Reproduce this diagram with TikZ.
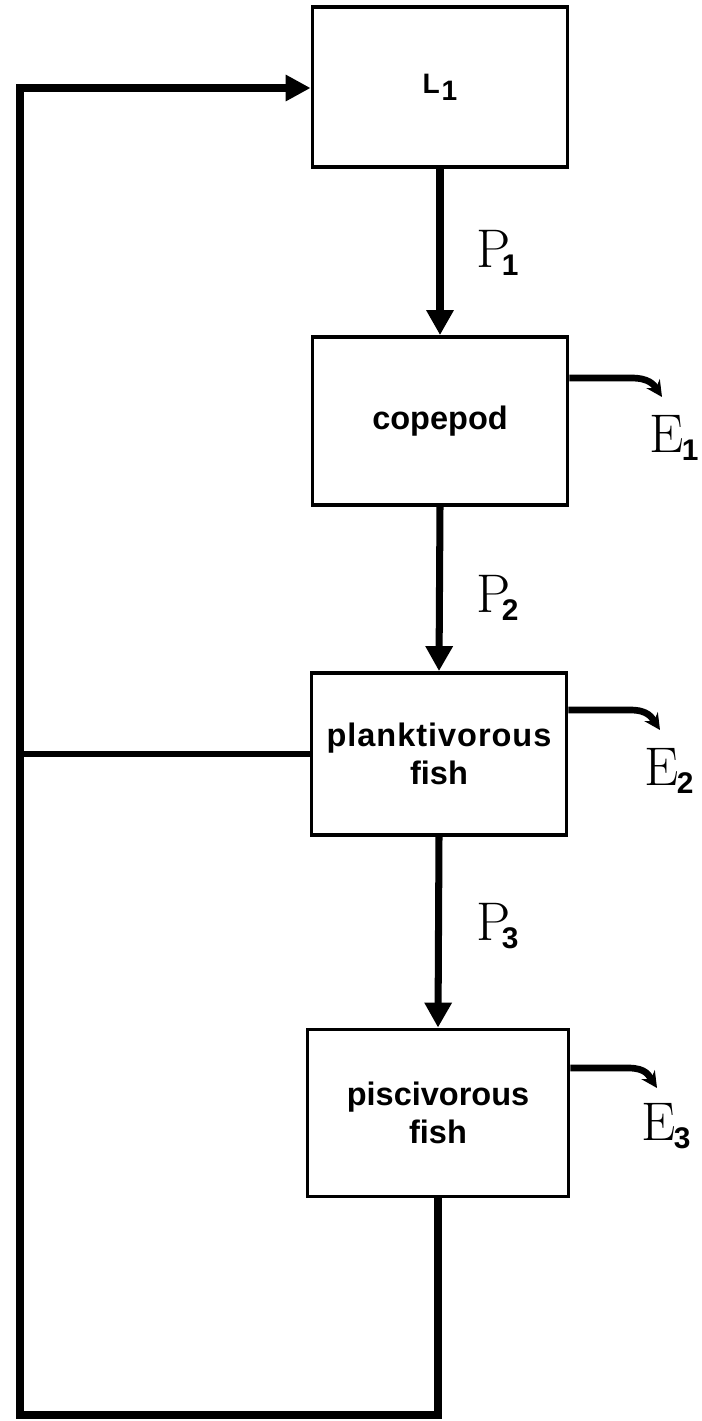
\documentclass[tikz,border=0pt]{standalone}
\usepackage{fontspec}
\setsansfont{Liberation Sans}
\usetikzlibrary{arrows.meta}
\newcommand{\fluxlab}[3]{{\fontsize{31}{31}\selectfont\addfontfeature{FakeBold=1.2}#2}\kern#1\raisebox{-5pt}{\sffamily\bfseries\fontsize{17}{17}\selectfont #3}}

\begin{document}
\begin{tikzpicture}[x=0.02cm, y=-0.02cm,
  box/.style={draw, line width=2.2pt, inner sep=0pt, minimum width=5.1cm,
    font=\sffamily\bfseries\fontsize{18.5}{22}\selectfont, align=center},
  flow/.style={line width=4pt, -{Triangle[length=0.5cm,width=0.52cm]}},
  loss/.style={line width=3.8pt, -{Stealth[length=0.32cm,width=0.32cm]}},
  feedback/.style={line width=4.5pt},
  fluxlabel/.style={anchor=base west, inner sep=0pt}]
\useasboundingbox (0,0) rectangle (702,1421);

% compartments
\node[box, minimum height=3.2cm, font=\sffamily\bfseries\fontsize{16}{19}\selectfont] (l1) at (440,87) {L\kern1pt\raisebox{-4pt}{1}};
\node[box, minimum height=3.36cm] (cope)   at (440,421)  {copepod};
\node[box, minimum height=3.24cm] (plankt) at (439,754)  {\addfontfeature{LetterSpace=3}planktivorous\\fish};
\node[box, minimum width=5.22cm, minimum height=3.34cm] (pisc) at (438,1113) {piscivorous\\fish};

% production flows
\draw[flow] (l1.south)     -- (cope.north);
\draw[flow] (cope.south)   -- (plankt.north);
\draw[flow] (plankt.south) -- (pisc.north);

\node[fluxlabel] (p1) at (476,267) {\fluxlab{-5pt}{P}{1}};
\node[fluxlabel] (p2) at (476,612) {\fluxlab{-5pt}{P}{2}};
\node[fluxlabel] (p3) at (476,940) {\fluxlab{-5pt}{P}{3}};

% feedback loop
\coordinate (fb-top) at (20,88);
\coordinate (fb-bot) at (20,1415);
\draw[feedback, -{Triangle[length=0.5cm,width=0.5cm]}] (pisc.south) |- (fb-bot) -- (fb-top) -- (fb-top -| l1.west);
\draw[feedback, line width=3.5pt] (plankt.west) -- (plankt.west -| fb-top);

% losses
\coordinate (e1tip) at (662,397);
\coordinate (e2tip) at (660,730);
\coordinate (e3tip) at (657,1088);
\draw[loss] (cope.east |- 0,378)   -- ++(62,0) .. controls +(18,0) and +(-8,-12) .. (e1tip);
\draw[loss] (plankt.east |- 0,710) -- ++(62,0) .. controls +(18,0) and +(-8,-12) .. (e2tip);
\draw[loss] (pisc.east |- 0,1068)  -- ++(58,0) .. controls +(18,0) and +(-8,-12) .. (e3tip);

\node[fluxlabel] (e1) at (649,452)  {\fluxlab{-1pt}{E}{1}};
\node[fluxlabel] (e2) at (644,785)  {\fluxlab{-1pt}{E}{2}};
\node[fluxlabel] (e3) at (641,1140) {\fluxlab{-1pt}{E}{3}};
\end{tikzpicture}
\end{document}
